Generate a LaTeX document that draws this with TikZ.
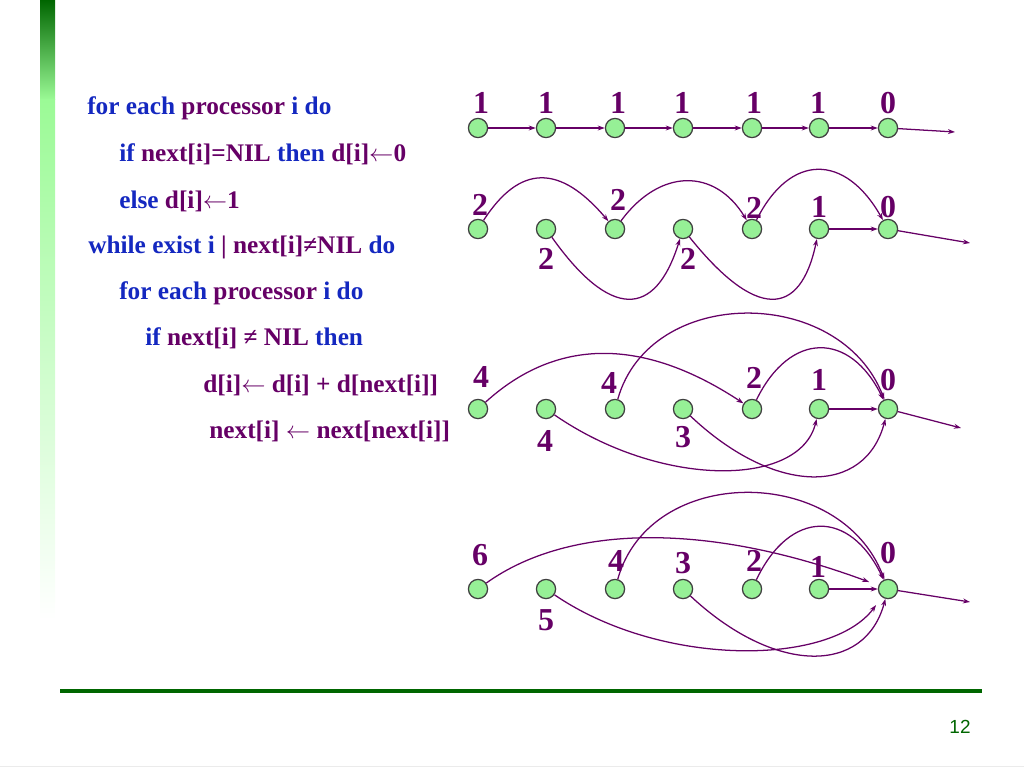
\documentclass[tikz,border=0pt]{standalone}
\usepackage{fontspec}
\setmainfont{Liberation Serif}
\newfontfamily\pagenofont{Liberation Sans}
\usetikzlibrary{arrows.meta}
\definecolor{kwblue}{RGB}{20,40,192}
\definecolor{plum}{RGB}{102,0,102}
\definecolor{procgreen}{RGB}{150,240,150}
\definecolor{bargreen}{RGB}{0,102,0}
\definecolor{barlight}{RGB}{155,250,150}
\newcommand{\kwd}[1]{{\color{kwblue}#1}}
\newcommand{\getsarrow}{$\leftarrow$}
\tikzset{
    proc/.style={circle, fill=procgreen, draw=black!75, line width=0.9pt,
        minimum size=0.48cm, inner sep=0pt},
    num/.style={inner sep=0pt, text=plum,
        font=\fontsize{22.7}{24}\selectfont\bfseries},
    code/.style={anchor=base west, inner sep=0pt, text=plum,
        font=\fontsize{18}{20}\selectfont\bfseries}
}
\tikzset{
    link/.style={draw=plum, line width=0.9pt, -{Stealth[length=5pt,width=3.5pt]}}
}

\begin{document}
\begin{tikzpicture}[x=0.025cm, y=-0.025cm]
	\useasboundingbox (0,0) rectangle (1024,768);
	% side bar and footer
	\shade[top color=bargreen, bottom color=barlight] (40,0) rectangle (55,100);
	\shade[top color=barlight, bottom color=white] (40,100) rectangle (55,620);
	\draw[bargreen, line width=3.5pt] (60,691) -- (982,691);
	\draw[black!8, line width=0.7pt] (0,766) -- (1024,766);
	\node[font=\pagenofont\fontsize{13.5}{14}\selectfont, text=bargreen] (pageno) at (960,727) {12};

	% pseudo code
	\node[code] (l1) at ( 87,115) {\kwd{for each} processor \kwd{i do}};
	\node[code] (l2) at (119,161) {\kwd{if} next[i]=NIL \kwd{then} d[i]\getsarrow0};
	\node[code] (l3) at (119,208) {\kwd{else} d[i]\getsarrow1};
	\node[code] (l4) at ( 88,253) {\kwd{while exist i} | next[i]≠NIL \kwd{do}};
	\node[code] (l5) at (119,299) {\kwd{for each} processor \kwd{i do}};
	\node[code] (l6) at (145,345) {\kwd{if} next[i] ≠ NIL \kwd{then}};
	\node[code] (l7) at (203,392) {d[i]\getsarrow\ d[i] + d[next[i]]};
	\node[code] (l8) at (209,438) {next[i] \getsarrow\ next[next[i]]};

	% processors, four rounds
	\foreach \x [count=\i] in {478,546,615,683,752,819,888} {
		\node[proc] (a\i) at (\x,128) {};
		\node[proc] (b\i) at (\x,229) {};
		\node[proc] (c\i) at (\x,409) {};
		\node[proc] (d\i) at (\x,589) {};
	}
	\coordinate (aend) at (955,132);
	\coordinate (bend) at (970,243);
	\coordinate (cend) at (961,428);
	\coordinate (dend) at (970,602);

	% distances
	\foreach \x/\v [count=\i] in {481/1,546/1,618/1,682/1,754/1,818/1,888/0}
		\node[num] (na\i) at (\x,103) {\v};
	\node[num] (nb1) at (480,205) {2};
	\node[num] (nb2) at (546,259) {2};
	\node[num] (nb3) at (618,200) {2};
	\node[num] (nb4) at (688,259) {2};
	\node[num] (nb5) at (754,208) {2};
	\node[num] (nb6) at (819,207) {1};
	\node[num] (nb7) at (888,207) {0};
	\node[num] (nc1) at (481,377) {4};
	\node[num] (nc2) at (545,441) {4};
	\node[num] (nc3) at (609,383) {4};
	\node[num] (nc4) at (683,437) {3};
	\node[num] (nc5) at (754,378) {2};
	\node[num] (nc6) at (819,380) {1};
	\node[num] (nc7) at (888,380) {0};
	\node[num] (nd1) at (480,555) {6};
	\node[num] (nd2) at (546,620) {5};
	\node[num] (nd3) at (616,561) {4};
	\node[num] (nd4) at (683,563) {3};
	\node[num] (nd5) at (754,561) {2};
	\node[num] (nd6) at (818,567) {1};
	\node[num] (nd7) at (888,553) {0};

	% round 1
	\foreach \i/\j in {1/2,2/3,3/4,4/5,5/6,6/7}
		\draw[link] (a\i) -- (a\j);
	\draw[link] (a7) -- (aend);

	% round 2
	\draw[link] (b1) .. controls (520,164) and (560,164) .. (b3);
	\draw[link] (b3) .. controls (660,168) and (715,168) .. (b5);
	\draw[link] (b5) .. controls (790,153) and (845,153) .. (b7);
	\draw[link] (b2) .. controls (610,319) and (655,319) .. (b4);
	\draw[link] (b4) .. controls (755,319) and (800,319) .. (b6);
	\draw[link] (b6) -- (b7);
	\draw[link] (b7) -- (bend);

	% round 3
	\draw[link] (c1) .. controls (565,330) and (655,345) .. (c5);
	\draw[link] (c3) .. controls (650,285) and (840,285) .. (c7);
	\draw[link] (c5) .. controls (790,331) and (850,331) .. (c7);
	\draw[link] (c2) .. controls (660,488) and (800,488) .. (c6);
	\draw[link] (c4) .. controls (775,496) and (865,496) .. (c7);
	\draw[link] (c6) -- (c7);
	\draw[link] (c7) -- (cend);

	% round 4
	\draw[link, shorten >=7pt] (d1) .. controls (570,523) and (710,523) .. (d7);
	\draw[link] (d3) .. controls (650,464) and (840,464) .. (d7);
	\draw[link] (d5) .. controls (790,509) and (850,509) .. (d7);
	\draw[link, shorten >=7pt] (d2) .. controls (660,667) and (830,667) .. (d7);
	\draw[link] (d4) .. controls (775,675) and (865,675) .. (d7);
	\draw[link] (d6) -- (d7);
	\draw[link] (d7) -- (dend);
\end{tikzpicture}
\end{document}
